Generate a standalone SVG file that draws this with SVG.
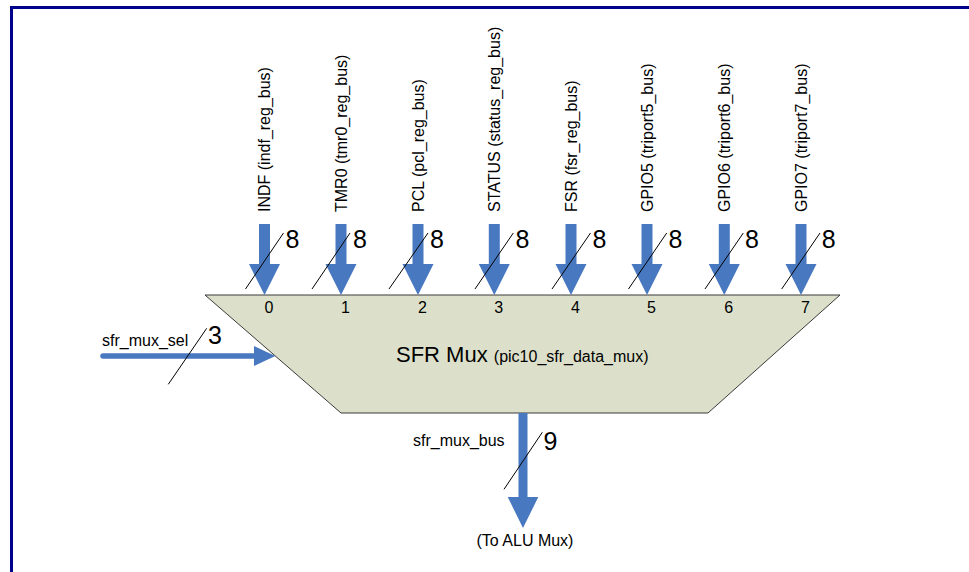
<svg xmlns="http://www.w3.org/2000/svg" width="969" height="572" viewBox="0 0 969 572">
<defs>
<style>
text { font-family: "Liberation Sans", Arial, sans-serif; fill: #000; }
.sig { font-size: 16px; }
.w { font-size: 25px; }
.port { font-size: 16px; }
.bus { fill: #4878C0; }
.slash { stroke: #000; stroke-width: 1; fill: none; }
.frame { fill: none; stroke: #00008B; stroke-width: 3; }
</style>
<polygon id="inArrow" points="-5.5,224 5.5,224 5.5,264 15.5,264 0,295 -15.5,264 -5.5,264"/>
</defs>
<rect width="969" height="572" fill="#fff"/>
<rect class="frame" x="11.5" y="7.5" width="1000" height="600"/>

<g id="mux">
<polygon points="205,295 840,295 708,413 341,413" fill="#DCE0CA" stroke="#3a3a3a" stroke-width="1"/>
<text x="396" y="362" style="font-size:22px">SFR Mux <tspan style="font-size:16px">(pic10_sfr_data_mux)</tspan></text>
<text class="port" x="264.5" y="313">0</text>
<text class="port" x="341" y="313">1</text>
<text class="port" x="418" y="313">2</text>
<text class="port" x="494.3" y="313">3</text>
<text class="port" x="571" y="313">4</text>
<text class="port" x="647" y="313">5</text>
<text class="port" x="724.3" y="313">6</text>
<text class="port" x="801" y="313">7</text>
</g>

<g id="connectors">
<g id="in0">
<use href="#inArrow" class="bus" x="264.5"/>
<line class="slash" x1="245.5" y1="289" x2="283.5" y2="233"/>
<text class="w" x="285.5" y="248">8</text>
<text class="sig" transform="translate(270 212) rotate(-90)">INDF (indf_reg_bus)</text>
</g>
<g id="in1">
<use href="#inArrow" class="bus" x="341"/>
<line class="slash" x1="312" y1="289" x2="350" y2="233"/>
<text class="w" x="353" y="248">8</text>
<text class="sig" transform="translate(346.5 212) rotate(-90)">TMR0 (tmr0_reg_bus)</text>
</g>
<g id="in2">
<use href="#inArrow" class="bus" x="418"/>
<line class="slash" x1="389" y1="289" x2="428" y2="233"/>
<text class="w" x="430" y="248">8</text>
<text class="sig" transform="translate(423.5 212) rotate(-90)">PCL (pcl_reg_bus)</text>
</g>
<g id="in3">
<use href="#inArrow" class="bus" x="494.3"/>
<line class="slash" x1="475" y1="289" x2="513.3" y2="233"/>
<text class="w" x="515.5" y="248">8</text>
<text class="sig" transform="translate(500 212) rotate(-90)">STATUS (status_reg_bus)</text>
</g>
<g id="in4">
<use href="#inArrow" class="bus" x="571"/>
<line class="slash" x1="552" y1="289" x2="590.5" y2="233"/>
<text class="w" x="592.5" y="248">8</text>
<text class="sig" transform="translate(576.5 212) rotate(-90)">FSR (fsr_reg_bus)</text>
</g>
<g id="in5">
<use href="#inArrow" class="bus" x="647"/>
<line class="slash" x1="628.5" y1="289" x2="666.7" y2="233"/>
<text class="w" x="668.5" y="248">8</text>
<text class="sig" transform="translate(652.5 212) rotate(-90)">GPIO5 (triport5_bus)</text>
</g>
<g id="in6">
<use href="#inArrow" class="bus" x="724.3"/>
<line class="slash" x1="705" y1="289" x2="743.3" y2="233"/>
<text class="w" x="745" y="248">8</text>
<text class="sig" transform="translate(729.8 212) rotate(-90)">GPIO6 (triport6_bus)</text>
</g>
<g id="in7">
<use href="#inArrow" class="bus" x="801"/>
<line class="slash" x1="781.7" y1="289" x2="820" y2="233"/>
<text class="w" x="821.7" y="248">8</text>
<text class="sig" transform="translate(806.5 212) rotate(-90)">GPIO7 (triport7_bus)</text>
</g>

<g id="sel">
<line x1="103" y1="356" x2="256" y2="356" stroke="#4878C0" stroke-width="5.5" stroke-linecap="round"/>
<polygon class="bus" points="254,346 275.3,356 254,366"/>
<line class="slash" x1="168.3" y1="384.3" x2="206.7" y2="328.3"/>
<text class="w" x="208" y="344">3</text>
<text class="sig" x="102" y="346">sfr_mux_sel</text>
</g>

<g id="out">
<polygon class="bus" points="518.5,413 527.5,413 527.5,497 538.3,497 523,528 507.7,497 518.5,497"/>
<line class="slash" x1="504" y1="489.3" x2="542.3" y2="432.3"/>
<text class="w" x="543.5" y="450">9</text>
<text class="sig" x="413" y="446">sfr_mux_bus</text>
<text class="sig" x="525" y="546" text-anchor="middle">(To ALU Mux)</text>
</g>
</g>
</svg>
